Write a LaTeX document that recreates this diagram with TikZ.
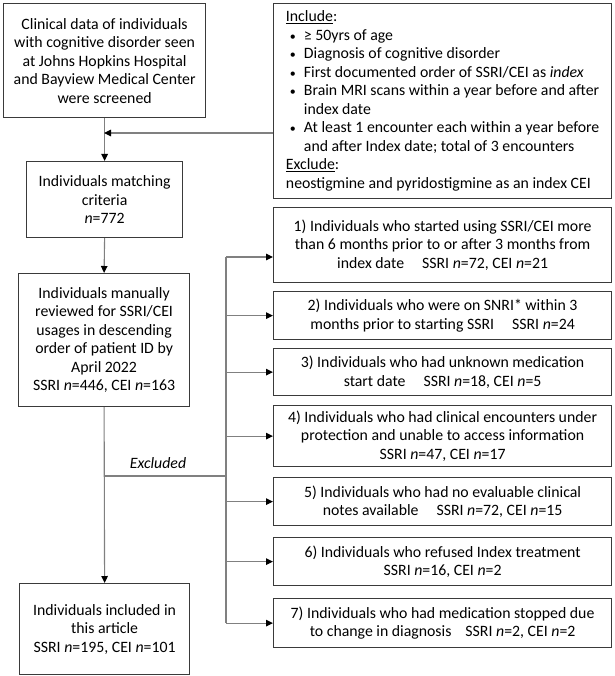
\documentclass[tikz,border=0pt]{standalone}
\usepackage{fontspec}
\setmainfont{Carlito}
\usetikzlibrary{arrows.meta}
\definecolor{boxcol}{HTML}{3A3A3A}
\definecolor{linecol}{HTML}{808080}
\newcommand{\nn}{\textit{n}}
\newcommand{\bul}{\hspace*{4pt}\makebox[14pt][l]{\fontsize{12}{12}\selectfont•}}
\newcommand{\ind}{\hspace*{18pt}}
\tikzset{
  box/.style={draw=boxcol, line width=1.2pt, anchor=north west, inner sep=0pt,
    align=center, font=\fontsize{15.8}{18.5}\selectfont},
  conn/.style={draw=linecol, line width=1.1pt},
  arr/.style={conn, -{Triangle[length=7pt,width=6.5pt,color=black]}}
}
\begin{document}
\begin{tikzpicture}[x=1pt,y=1pt]
\useasboundingbox (0,0) rectangle (614,-676);
% left column
\node[box, minimum width=202pt, minimum height=114pt] (A) at (3,-3)
  {Clinical data of individuals\\ with cognitive disorder seen\\ at Johns Hopkins Hospital\\ and Bayview Medical Center\\ were screened};
\node[box, minimum width=156pt, minimum height=76pt] (B) at (26,-161)
  {Individuals matching\\ criteria\\ \nn=772};
\node[box, minimum width=171pt, minimum height=133pt] (C) at (18,-273)
  {Individuals manually\\ reviewed for SSRI/CEI\\ usages in descending\\ order of patient ID by\\ April 2022\\ SSRI \nn=446, CEI \nn=163};
\node[box, minimum width=170pt, minimum height=91pt] (D) at (19,-583)
  {Individuals included in\\ this article\\ SSRI \nn=195, CEI \nn=101};
% include box
\node[box, minimum width=338pt, minimum height=195pt, align=left] (incl) at (273,-3)
  {\underline{Include}:\\
   \bul ≥ 50yrs of age\\
   \bul Diagnosis of cognitive disorder\\
   \bul First documented order of SSRI/CEI as \textit{index}\\
   \bul Brain MRI scans within a year before and after\\
   \ind index date\\
   \bul At least 1 encounter each within a year before\\
   \ind and after Index date; total of 3 encounters\\
   \underline{Exclude}:\\
   neostigmine and pyridostigmine as an index CEI};
% right column
\node[box, minimum width=338pt, minimum height=75pt] (r1) at (273,-207)
  {1) Individuals who started using SSRI/CEI more\\ than 6 months prior to or after 3 months from\\ index date\hspace{18pt}SSRI \nn=72, CEI \nn=21};
\node[box, minimum width=338pt, minimum height=48pt] (r2) at (273,-291)
  {2) Individuals who were on SNRI* within 3\\ months prior to starting SSRI\hspace{18pt}SSRI \nn=24};
\node[box, minimum width=338pt, minimum height=47pt] (r3) at (273,-348)
  {3) Individuals who had unknown medication\\ start date\hspace{18pt}SSRI \nn=18, CEI \nn=5};
\node[box, minimum width=338pt, minimum height=61pt] (r4) at (273,-405)
  {4) Individuals who had clinical encounters under\\ protection and unable to access information\\ SSRI \nn=47, CEI \nn=17};
\node[box, minimum width=338pt, minimum height=48pt] (r5) at (273,-477)
  {5) Individuals who had no evaluable clinical\\ notes available\hspace{18pt}SSRI \nn=72, CEI \nn=15};
\node[box, minimum width=338pt, minimum height=48pt] (r6) at (273,-537)
  {6) Individuals who refused Index treatment\\ SSRI \nn=16, CEI \nn=2};
\node[box, minimum width=338pt, minimum height=49pt] (r7) at (273,-598)
  {7) Individuals who had medication stopped due\\ to change in diagnosis\hspace{14pt}SSRI \nn=2, CEI \nn=2};
% connectors
\coordinate (j1) at (104,-133);
\coordinate (exy) at (0,-476);
\coordinate (bx) at (226,0);
\coordinate (b1) at (226,-257);
\draw[arr] (A.south) -- (B.north);
\draw[arr] (incl.west |- j1) -- (j1);
\draw[arr] (B.south) -- (C.north);
\draw[arr] (C.south) -- (D.north);
\coordinate (ex) at (C.south |- exy);
\draw[conn] (ex) -- (ex -| bx);
\node[font=\fontsize{15.8}{18.5}\selectfont\itshape] (exl) at (158,-463) {Excluded};
\draw[conn] (b1) -- (r7.west -| bx);
\draw[arr] (b1) -- (r1.west |- b1);
\foreach \i in {2,...,7} {\draw[arr] (r\i.west -| bx) -- (r\i.west);}
\end{tikzpicture}
\end{document}
